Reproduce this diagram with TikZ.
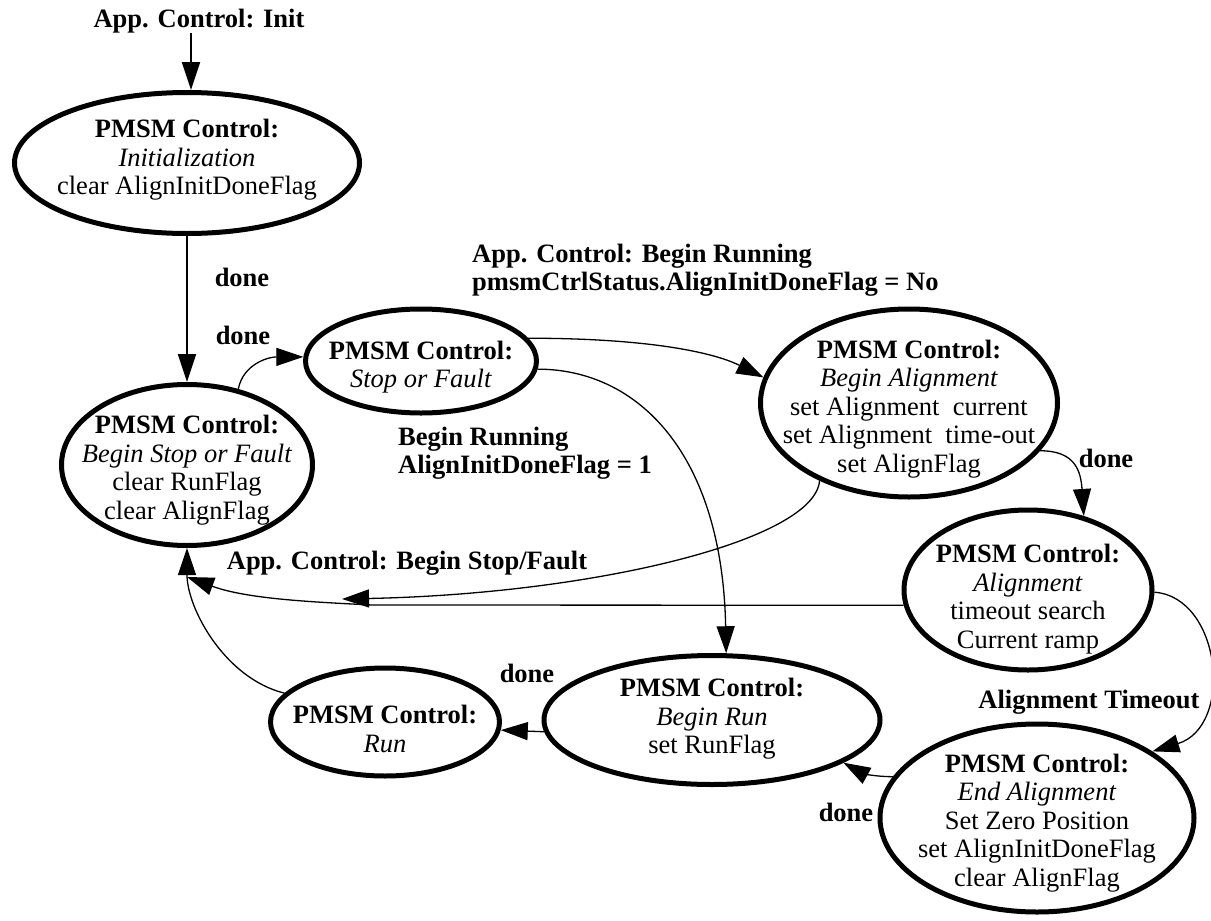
\documentclass[tikz,border=0pt]{standalone}
\usepackage{fontspec}
\setmainfont{Liberation Serif}
\usetikzlibrary{shapes.geometric,arrows.meta}
\begin{document}
\begin{tikzpicture}[x=1pt,y=-1pt,
  state/.style={ellipse,draw,line width=5pt,inner sep=0pt},
  stxt/.style={align=center,font=\fontsize{26.5}{28.5}\selectfont,inner sep=0pt},
  lbl/.style={font=\fontsize{26.5}{28.5}\selectfont\bfseries,inner sep=0pt},
  mlbl/.style={lbl,align=left},
  conn/.style={line width=1.3pt,-{Triangle[length=27pt,width=18pt]}},
  heavyconn/.style={line width=2pt,-{Triangle[length=28pt,width=18pt]}},
]
\useasboundingbox (0,0) rectangle (1211,921);

% states (outline) and their texts
\node[state,minimum width=345pt,minimum height=141pt] (init) at (187,163) {};
\node[stxt] (init-t) at (187,160) {\textbf{PMSM Control:}\\\textit{Initialization}\\clear AlignInitDoneFlag};

\node[state,minimum width=251pt,minimum height=161pt] (bstop) at (187,465) {};
\node[stxt] (bstop-t) at (187,470) {\textbf{PMSM Control:}\\\textit{Begin Stop or Fault}\\clear RunFlag\\clear AlignFlag};

\node[state,minimum width=231pt,minimum height=104pt] (stopf) at (421,361) {};
\node[stxt] (stopf-t) at (421,367) {\textbf{PMSM Control:}\\\textit{Stop or Fault}};

\node[state,minimum width=297pt,minimum height=188pt] (balign) at (909,403) {};
\node[stxt] (balign-t) at (909,409) {\textbf{PMSM Control:}\\\textit{Begin Alignment}\\set Alignment\ \ current\\set Alignment\ \ time-out\\set AlignFlag};

\node[state,minimum width=248pt,minimum height=160pt] (align) at (1028,590) {};
\node[stxt] (align-t) at (1028,599) {\textbf{PMSM Control:}\\\textit{Alignment}\\timeout search\\Current ramp};

\node[state,minimum width=314pt,minimum height=188pt] (endal) at (1037,818) {};
\node[stxt] (endal-t) at (1037,823) {\textbf{PMSM Control:}\\\textit{End Alignment}\\Set Zero Position\\set AlignInitDoneFlag\\clear AlignFlag};

\node[state,minimum width=336pt,minimum height=129pt] (brun) at (712,720) {};
\node[stxt] (brun-t) at (712,719) {\textbf{PMSM Control:}\\\textit{Begin Run}\\set RunFlag};

\node[state,minimum width=229pt,minimum height=108pt] (run) at (385,722) {};
\node[stxt] (run-t) at (385,729) {\textbf{PMSM Control:}\\\textit{Run}};

% transition labels
\node[lbl] (initlbl) at (199,21) {App. Control: Init};
\node[lbl] (done1) at (242,277) {done};
\node[lbl] (done2) at (243,335) {done};
\node[mlbl,anchor=west] (runlbl) at (472,270) {App. Control: Begin Running\\pmsmCtrlStatus.AlignInitDoneFlag = No};
\node[mlbl,anchor=west] (brlbl) at (398,453) {Begin Running\\AlignInitDoneFlag = 1};
\node[lbl] (done3) at (1106,458) {done};
\node[lbl] (stoplbl) at (407,563) {App. Control: Begin Stop/Fault};
\node[lbl] (done4) at (527,673) {done};
\node[lbl] (tolbl) at (1089,702) {Alignment Timeout};
\node[lbl] (done5) at (846,812) {done};

% points where connectors join other connectors
\coordinate (m1) at (342,599);
\coordinate (m2) at (187,577);
\coordinate (c1) at (372,605);

% transitions
\draw[heavyconn] ([xshift=4pt]init.north |- initlbl.south) -- ([xshift=4pt]init.north);
\draw[heavyconn] (init.south) -- (bstop.north);
\draw[conn] (bstop.56) .. controls +(5,-25) and +(-35,0) .. (stopf.178);
\draw[conn] (stopf.12) .. controls +(120,0) and +(-50,-25) .. (balign.170);
\draw[conn] (stopf.-4) .. controls +(100,0) and +(-4,-200) .. (brun.78);
\draw[conn] (balign.-20) .. controls +(35,0) and +(-3,-45) .. (align.53);
\draw[conn] (balign.221) .. controls +(-5,60) and +(250,-5) .. (m1);
\draw[conn] (align.187) -- (c1) .. controls +(-60,-3) and +(60,22) .. (m2);
\draw[conn] (align.-1) .. controls +(67,5) and +(82,-25) .. (endal.30);
\draw[conn] (endal.164) .. controls +(-20,0) and +(18,10) .. (brun.-18);
\draw[conn] (brun.184) -- (run.-4);
\draw[conn] (run.164) .. controls +(-60,-15) and +(0,60) .. (bstop.south);
\end{tikzpicture}
\end{document}
